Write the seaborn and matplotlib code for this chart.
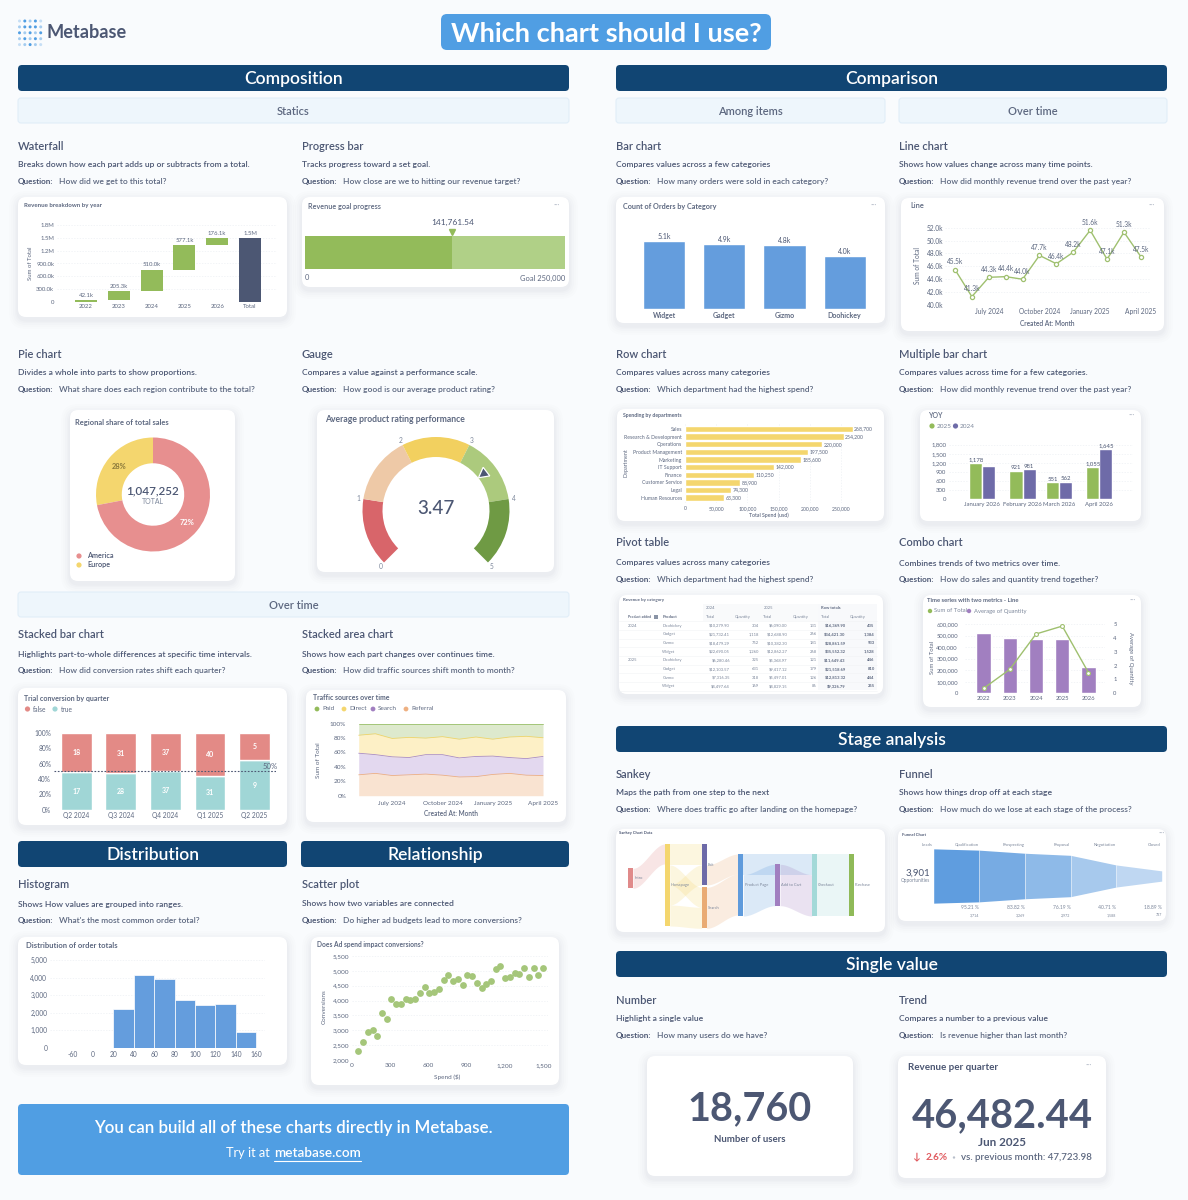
import numpy as np
import pandas as pd
import seaborn as sns
import matplotlib.pyplot as plt
from matplotlib.patches import FancyBboxPatch, Circle, Rectangle
from matplotlib.ticker import FuncFormatter

W, H = 1188, 1200
BG = '#f9fbfd'
DARK = '#4c5773'
MID = '#5d6880'
MUTED = '#7c879b'
NAVY = '#114573'
BLUE = '#509ee3'
GREEN = '#93bb5a'
PURPLE = '#a17fc0'
INDIGO = '#6e6ba8'
YELLOW = '#f4d66e'
RED = '#e38a86'
TEAL = '#a0d6d6'
ORANGE = '#eeb081'
BARBLUE = '#649ddd'

# waterfall
wf_years = ['2022', '2023', '2024', '2025', '2026']
wf_steps = [42100, 205300, 510000, 577100, 176100]
wf_labels = ['42.1k', '205.3k', '510.0k', '577.1k', '176.1k', '1.5M']
wf_ticks = [0, 300000, 600000, 900000, 1200000, 1500000, 1800000]
wf_ticklabels = ['0', '300.0k', '600.0k', '900.0k', '1.2M', '1.5M', '1.8M']

# progress
progress_value = 141761.54
progress_goal = 250000

# donut
donut_names = ['Europe', 'America']
donut_values = [28, 72]
donut_total = '1,047,252'

# gauge
gauge_value = 3.47
gauge_segments = [1, 1, 1, 1, 1]
gauge_colors = ['#d8656a', '#eec9a7', '#f2d05f', '#acca7d', '#6f9a44']

# stacked bar
sb_quarters = ['Q2 2024', 'Q3 2024', 'Q4 2024', 'Q1 2025', 'Q2 2025']
sb_false = [18, 31, 37, 40, 5]
sb_true = [17, 28, 37, 31, 9]

# stacked area
months_idx = list(range(12))
month_ticks = [2, 5, 8, 11]
month_ticklabels = ['July 2024', 'October 2024', 'January 2025', 'April 2025']
area_referral = [29, 31, 28, 29, 30, 28.5, 26, 26.5, 29.5, 31, 28.5, 28]
area_search = [30, 26, 26, 24, 27, 28.5, 26.5, 28, 25.5, 22, 23, 26.5]
area_direct = [25, 29, 25.5, 28, 23, 25, 26, 27, 23.5, 28.5, 31, 26]
area_paid = [16, 14, 20.5, 19, 20, 18, 21.5, 18.5, 21.5, 18.5, 17.5, 19.5]

# histogram
hist_edges = [20, 40, 60, 80, 100, 120, 140, 160]
hist_counts = [2200, 4150, 3900, 2700, 2450, 2500, 900]
hist_ticks = [-20, 0, 20, 40, 60, 80, 100, 120, 140, 160]
hist_ticklabels = ['-60', '0', '20', '40', '60', '80', '100', '120', '140', '160']

# scatter
scatter_spend = [50, 89, 125, 164, 201, 237, 274, 310, 347, 386, 423, 459, 496, 535, 571, 608, 647, 684, 720, 757,
                 793, 830, 869, 905, 945, 981, 1018, 1054, 1091, 1127, 1164, 1200, 1239, 1276, 1312, 1349, 1388, 1425, 1461, 1500]
scatter_conv = [2314, 2595, 2931, 3021, 2797, 3593, 3369, 4042, 3885, 3874, 4042, 4031, 4042, 4255, 4457, 4255, 4278, 4390, 4693, 4850,
                4659, 4738, 4536, 4861, 4827, 4603, 4412, 4547, 4670, 5063, 5153, 4760, 4783, 4928, 4895, 5086, 4805, 5108, 4872, 5108]

# bar chart
bar_names = ['Widget', 'Gadget', 'Gizmo', 'Doohickey']
bar_values = [5100, 4900, 4800, 4000]
bar_labels = ['5.1k', '4.9k', '4.8k', '4.0k']

# line chart
line_values = [45.5, 41.3, 44.3, 44.4, 44.0, 47.7, 46.4, 48.2, 51.6, 47.1, 51.3, 47.5]

# row chart
row_names = ['Sales', 'Research & Development', 'Operations', 'Product Management', 'Marketing',
             'IT Support', 'Finance', 'Customer Service', 'Legal', 'Human Resources']
row_values = [268700, 254200, 220000, 197500, 185600, 142000, 110250, 88900, 74300, 63300]

# multiple bar
mb_months = ['January 2026', 'February 2026', 'March 2026', 'April 2026']
mb_days = [0, 31, 59, 90]
mb_2025 = [1178, 921, 551, 1055]
mb_2024 = [1082, 981, 562, 1645]
mb_2024_labels = ['', '981', '562', '1,645']

# combo
combo_years = ['2022', '2023', '2024', '2025', '2026']
combo_total = [525000, 479000, 470000, 467000, 225000]
combo_qty = [0.36, 1.73, 4.28, 4.85, 1.49]

# pivot table
pivot_years = ['2024', '', '', '', '2025', '', '', '']
pivot_products = ['Doohickey', 'Gadget', 'Gizmo', 'Widget', 'Doohickey', 'Gadget', 'Gizmo', 'Widget']
pivot_total_24 = ['$10,279.90', '$21,732.41', '$18,479.29', '$22,690.05', '$6,280.46', '$12,103.57', '$7,316.35', '$4,497.64']
pivot_qty_24 = ['304', '1,118', '752', '1,260', '325', '631', '318', '169']
pivot_total_25 = ['$6,090.00', '$12,688.90', '$10,382.30', '$12,862.27', '$5,368.97', '$9,417.12', '$5,497.01', '$4,829.15']
pivot_qty_25 = ['131', '266', '181', '268', '121', '179', '126', '86']
pivot_row_total = ['$16,369.90', '$34,421.30', '$28,861.59', '$35,552.32', '$11,649.43', '$21,518.69', '$12,813.32', '$9,326.79']
pivot_row_qty = ['435', '1,384', '933', '1,528', '446', '810', '444', '255']

# sankey
node_names = ['Intro', 'Homepage', 'Exit', 'Search', 'Product Page', 'Add to Cart', 'Checkout', 'Purchase']
node_col = [0, 1, 2, 2, 3, 4, 5, 6]
node_top = [130, 57, 57, 187, 87, 118, 87, 87]
node_size = [60, 246, 123, 123, 185, 124, 185, 185]
node_colors = ['#e08a8a', '#f4d66e', '#6d6aa8', '#e9ab74', '#5f9bdc', '#a17fc0', '#a3d9d8', '#8fba58']
link_src = [0, 1, 1, 1, 1, 2, 3, 4, 4, 5, 6]
link_dst = [1, 2, 3, 2, 3, 4, 4, 6, 5, 6, 7]
link_src_off = [0, 0, 63, 123, 183, 63, 0, 0, 62, 0, 0]
link_dst_off = [0, 0, 0, 63, 60, 0, 60, 0, 0, 62, 0]
link_value = [60, 63, 60, 60, 63, 60, 123, 62, 124, 124, 185]
link_color = [0, 1, 1, 1, 1, 3, 3, 4, 4, 5, 6]

# funnel
funnel_stages = ['Leads', 'Qualification', 'Prospecting', 'Proposal', 'Negotiation', 'Closed']
funnel_values = [3901, 3714, 3269, 2972, 1588, 737]
funnel_pct = ['95.21 %', '83.82 %', '76.19 %', '40.71 %', '18.89 %']
funnel_counts = ['3,714', '3,269', '2,972', '1,588', '737']

sns.set_theme(style='white')
plt.rcParams['font.family'] = ['Lato', 'DejaVu Sans']
plt.rcParams['axes.unicode_minus'] = False

fig = plt.figure(figsize=(W / 100, H / 100), dpi=100, facecolor=BG)
bgax = fig.add_axes([0, 0, 1, 1], zorder=0)
bgax.set_xlim(0, W)
bgax.set_ylim(H, 0)
bgax.axis('off')
renderer = fig.canvas.get_renderer()


def T(x, y, s, size=7, color=DARK, weight='normal', ha='left', va='center', w=None, **kw):
    t = bgax.text(x, y, s, fontsize=size, color=color, fontweight=weight, ha=ha, va=va, zorder=5, **kw)
    if w:
        # scale the font so the text is w pixels wide
        t.set_fontsize(size * w / t.get_window_extent(renderer).width)
    return t


def box(x0, y0, x1, y1, color, radius=5, ec='none', lw=0, z=2):
    bgax.add_patch(FancyBboxPatch((x0, y0), x1 - x0, y1 - y0, boxstyle='round,pad=0,rounding_size=%s' % radius,
                                  fc=color, ec=ec, lw=lw, zorder=z))


def card(x0, y0, x1, y1):
    # soft shadow, a few stacked translucent boxes
    for grow, alpha in [(9, .006), (7, .008), (5, .010), (3, .014), (1.5, .018)]:
        bgax.add_patch(FancyBboxPatch((x0 - grow, y0 - grow + 3), x1 - x0 + 2 * grow, y1 - y0 + 2 * grow,
                                      boxstyle='round,pad=0,rounding_size=%s' % (8 + grow),
                                      fc='#33425e', ec='none', alpha=alpha, zorder=1))
    box(x0, y0, x1, y1, 'white', radius=8)


def section(x0, y0, x1, y1, label):
    box(x0, y0, x1, y1, NAVY, radius=4)
    T((x0 + x1) / 2, (y0 + y1) / 2 + 1.2, label, size=12.6, color='white', weight='semibold', ha='center')


def subbar(x0, y0, x1, y1, label):
    box(x0, y0, x1, y1, '#eef6fc', radius=3, ec='#e1eef8', lw=.8)
    T((x0 + x1) / 2, (y0 + y1) / 2 + 1, label, size=8, color=MID, weight='semibold', ha='center')


def blurb(x, y0, y1, y2, title, desc, question):
    T(x, y0, title, size=8, color=DARK, weight='semibold')
    T(x, y1, desc, size=6.1, color=DARK, weight='semibold')
    T(x, y2 + .5, 'Question:', size=5.9, color=DARK, weight='bold')
    T(x + 41, y2 + .5, question, size=6, color=MID, weight='semibold')


def dot(x, y, color, r=2.6):
    bgax.add_patch(Circle((x, y), r, fc=color, ec='none', zorder=5))


def more(x, y):
    T(x, y, '···', size=6, color='#b8bfcb', ha='center')


def panel(x0, y0, x1, y1):
    ax = fig.add_axes([x0 / W, 1 - y1 / H, (x1 - x0) / W, (y1 - y0) / H], zorder=3)
    ax.patch.set_visible(False)
    return ax


def clean(ax, size=4.3, grid='y'):
    sns.despine(ax=ax, left=True, bottom=True)
    ax.set_xlabel('')
    ax.set_ylabel('')
    ax.tick_params(length=0, labelsize=size, labelcolor=MID, pad=2)
    if grid:
        ax.grid(True, axis=grid, color='#edf0f4', lw=.5, ls=(0, (2, 2)))
        ax.set_axisbelow(True)
    else:
        ax.grid(False)


# ---- header
mask = [[.3, 1, .5, 1, .3], [.5, 1, 1, 1, .5], [1, .5, 1, .5, 1], [.5, 1, .5, 1, .5], [.3, .5, 1, .5, .3]]
for row, alphas in enumerate(mask):
    for col, alpha in enumerate(alphas):
        bgax.add_patch(Circle((19.5 + col * 5.3, 21 + row * 5.9), 1.5, fc=BLUE, ec='none', alpha=alpha, zorder=5))
T(47, 33, 'Metabase', size=13, color=DARK, weight='bold', w=80)
box(441, 14, 771, 50, BLUE, radius=6)
T(606, 34, 'Which chart should I use?', size=20, color='white', weight='bold', ha='center', w=312)

section(18, 65, 569, 91, 'Composition')
section(616, 65, 1167, 91, 'Comparison')
subbar(18, 98, 569, 123, 'Statics')
subbar(616, 98, 885, 123, 'Among items')
subbar(899, 98, 1167, 123, 'Over time')
subbar(18, 592, 569, 617, 'Over time')
section(18, 841, 287, 867, 'Distribution')
section(301, 841, 569, 867, 'Relationship')
section(616, 726, 1167, 752, 'Stage analysis')
section(616, 951, 1167, 977, 'Single value')

blurb(18, 146, 165, 181, 'Waterfall', 'Breaks down how each part adds up or subtracts from a total.', 'How did we get to this total?')
blurb(302, 146, 165, 181, 'Progress bar', 'Tracks progress toward a set goal.', 'How close are we to hitting our revenue target?')
blurb(18, 354, 373, 389, 'Pie chart', 'Divides a whole into parts to show proportions.', 'What share does each region contribute to the total?')
blurb(302, 354, 373, 389, 'Gauge', 'Compares a value against a performance scale.', 'How good is our average product rating?')
blurb(18, 635, 654, 670, 'Stacked bar chart', 'Highlights part-to-whole differences at specific time intervals.', 'How did conversion rates shift each quarter?')
blurb(302, 635, 654, 670, 'Stacked area chart', 'Shows how each part changes over continues time.', 'How did traffic sources shift month to month?')
blurb(18, 885, 904, 920, 'Histogram', 'Shows How values are grouped into ranges.', "What's the most common order total?")
blurb(302, 885, 904, 920, 'Scatter plot', 'Shows how two variables are connected', 'Do higher ad budgets lead to more conversions?')
blurb(616, 146, 165, 181, 'Bar chart', 'Compares values across a few categories', 'How many orders were sold in each category?')
blurb(899, 146, 165, 181, 'Line chart', 'Shows how values change across many time points.', 'How did monthly revenue trend over the past year?')
blurb(616, 354, 373, 389, 'Row chart', 'Compares values across many categories', 'Which department had the highest spend?')
blurb(899, 354, 373, 389, 'Multiple bar chart', 'Compares values across time for a few categories.', 'How did monthly revenue trend over the past year?')
blurb(616, 543, 563, 579, 'Pivot table', 'Compares values across many categories', 'Which department had the highest spend?')
blurb(899, 543, 563, 579, 'Combo chart', 'Combines trends of two metrics over time.', 'How do sales and quantity trend together?')
blurb(616, 774, 793, 809, 'Sankey', 'Maps the path from one step to the next', 'Where does traffic go after landing on the homepage?')
blurb(899, 774, 793, 809, 'Funnel', 'Shows how things drop off at each stage', 'How much do we lose at each stage of the process?')
blurb(616, 1000, 1019, 1035, 'Number', 'Highlight a single value', 'How many users do we have?')
blurb(899, 1000, 1019, 1035, 'Trend', 'Compares a number to a previous value', 'Is revenue higher than last month?')

for rect in [(18, 197, 287, 317), (302, 197, 569, 287), (70, 410, 235, 581), (317, 410, 554, 572),
             (18, 688, 287, 825), (306, 690, 566, 822), (18, 937, 287, 1065), (311, 937, 559, 1085),
             (616, 197, 885, 323), (901, 198, 1164, 331), (617, 409, 884, 521), (920, 410, 1141, 521),
             (619, 595, 883, 694), (923, 595, 1141, 707), (616, 829, 885, 932), (898, 829, 1166, 921),
             (647, 1056, 853, 1176), (898, 1056, 1106, 1178)]:
    card(*rect)

# ---- waterfall
T(24, 206, 'Revenue breakdown by year', size=5, color=MID, weight='bold', w=79)
T(30, 263, 'Sum of Total', size=4.3, color=MID, rotation=90, ha='center')
ax = panel(57, 225.3, 277, 301.7)
wf_total = sum(wf_steps)
wf_bottoms = list(np.concatenate([[0], np.cumsum(wf_steps)[:-1]])) + [0]
wf_cats = wf_years + ['Total']
sns.barplot(x=wf_cats, y=wf_steps + [0], bottom=wf_bottoms, color=GREEN, saturation=1, width=.67, linewidth=0, ax=ax)
sns.barplot(x=wf_cats, y=[0] * 5 + [wf_total], color=DARK, saturation=1, width=.67, linewidth=0, ax=ax)
ax.set_xlim(-.88, 5.82)
ax.set_ylim(0, 1800000)
ax.set_yticks(wf_ticks)
ax.set_yticklabels(wf_ticklabels)
clean(ax)
for i, lab in enumerate(wf_labels):
    ax.annotate(lab, (i, (wf_bottoms[i] + (wf_steps + [wf_total])[i])), xytext=(0, 1.5), textcoords='offset points',
                ha='center', va='bottom', fontsize=4.3, color=MID)

# ---- progress bar
T(308, 207, 'Revenue goal progress', size=5.4, color=MID, weight='semibold', w=73)
more(557, 205)
ax = panel(305, 236, 565, 269)
sns.barplot(x=[progress_goal], y=[''], color='#b0d087', saturation=1, width=1, orient='h', linewidth=0, ax=ax)
sns.barplot(x=[progress_value], y=[''], color=GREEN, saturation=1, width=1, orient='h', linewidth=0, ax=ax)
ax.set_xlim(0, progress_goal)
ax.set_ylim(.5, -.5)
ax.axis('off')
ax.annotate(format(progress_value, ',.2f'), (progress_value, -.5), xytext=(0, 7), textcoords='offset points',
            ha='center', va='bottom', fontsize=6, color=DARK)
ax.plot([progress_value], [-.62], marker='v', ms=4.5, color=GREEN, clip_on=False)
T(305, 278, '0', size=5.4, color=MID)
T(565, 278, 'Goal ' + format(progress_goal, ','), size=5.4, color=MID, ha='right')

# ---- donut
T(75, 422, 'Regional share of total sales', size=5.2, color=MID, weight='bold', w=93)
ax = panel(96, 437, 210, 552)
ax.pie(donut_values, colors=['#f4d66e', '#e78f8f'], startangle=90, radius=1, wedgeprops={'width': 26 / 57.5, 'linewidth': 0})
ax.set_xlim(-1, 1)
ax.set_ylim(-1, 1)
donut_start = 90
for val, col in zip(donut_values, ['#8b7a3c', 'white']):
    mid = np.radians(donut_start + val * 3.6 / 2)
    ax.text(.78 * np.cos(mid), .78 * np.sin(mid), '%d%%' % val, fontsize=5.4, color=col, fontweight='bold', ha='center', va='center')
    donut_start += val * 3.6
T(153, 491, donut_total, size=9, color=DARK, weight='semibold', ha='center', w=53)
T(153, 501, 'TOTAL', size=5, color=MUTED, ha='center', w=22)
dot(79, 556, '#e78f8f')
dot(79, 565, '#f4d66e')
T(87, 556, donut_names[1], size=5.2, color=DARK, weight='semibold')
T(87, 565, donut_names[0], size=5.2, color=DARK, weight='semibold')

# ---- gauge
T(325, 420, 'Average product rating performance', size=6.2, color=MID, weight='bold', w=140)
ax = panel(362.5, 437, 509.5, 584)
gauge_hidden = sum(gauge_segments) * 90 / 270
ax.pie(gauge_segments + [gauge_hidden], colors=gauge_colors + ['none'], startangle=225, counterclock=False, radius=1,
       wedgeprops={'width': 20 / 73.5, 'linewidth': 0})
ax.set_xlim(-1, 1)
ax.set_ylim(-1, 1)
for tick in range(6):
    ang = np.radians(225 - tick * 54)
    ax.text(1.07 * np.cos(ang), 1.07 * np.sin(ang), str(tick), fontsize=4.8, color=MUTED, ha='center', va='center', clip_on=False)
ang = np.radians(225 - gauge_value * 54)
needle_r = [.73, .87, .87]
needle_a = [ang, ang + .085, ang - .085]
ax.fill([r * np.cos(a) for r, a in zip(needle_r, needle_a)], [r * np.sin(a) for r, a in zip(needle_r, needle_a)],
        color=DARK, ec='white', lw=.9)
T(436, 509, '%.2f' % gauge_value, size=13.5, color=DARK, weight='medium', ha='center')

# ---- stacked bar
T(24, 698, 'Trial conversion by quarter', size=5.4, color=MID, weight='bold', w=87)
dot(27.5, 709, RED)
T(33, 709, 'false', size=4.8, color=MID)
dot(55, 709, TEAL)
T(61, 709, 'true', size=4.8, color=MID)
ax = panel(54, 733, 276, 809.7)
sb_tot = np.array(sb_false) + np.array(sb_true)
sb_true_pct = 100 * np.array(sb_true) / sb_tot
sb_false_pct = 100 * np.array(sb_false) / sb_tot
sns.barplot(x=sb_quarters, y=sb_true_pct, color=TEAL, saturation=1, width=.69, ax=ax)
sns.barplot(x=sb_quarters, y=sb_false_pct, bottom=sb_true_pct, color=RED, saturation=1, width=.69, ax=ax)
ax.set_xlim(-.5, 4.48)
ax.set_ylim(0, 100)
ax.set_yticks([0, 20, 40, 60, 80, 100])
ax.yaxis.set_major_formatter(FuncFormatter(lambda v, p: '%d%%' % v))
clean(ax, size=4.8, grid=None)
ax.axhline(50, color=DARK, lw=.8, ls=(0, (1.5, 1.5)))
for i in range(len(sb_quarters)):
    ax.text(i, sb_true_pct[i] / 2, str(sb_true[i]), color='white', fontsize=5, fontweight='bold', ha='center', va='center')
    ax.text(i, sb_true_pct[i] + sb_false_pct[i] / 2, str(sb_false[i]), color='white', fontsize=5, fontweight='bold', ha='center', va='center')
ax.annotate('50%', (1, 50), xycoords=('axes fraction', 'data'), xytext=(1, 1), textcoords='offset points',
            ha='right', va='bottom', fontsize=5.6, color=MID)

# ---- stacked area
T(313, 698, 'Traffic sources over time', size=5.4, color=MID, weight='bold', w=77)
for x, name, col in [(317, 'Paid', '#93bb5a'), (344, 'Direct', '#f4d66e'), (373, 'Search', PURPLE), (406, 'Referral', ORANGE)]:
    dot(x, 709, col, r=2.4)
    T(x + 5, 709, name, size=4.6, color=MID)
T(318, 760, 'Sum of Total', size=4.6, color=MID, rotation=90, ha='center')
T(451, 813, 'Created At: Month', size=4.7, color=MID, weight='semibold', ha='center')
ax = panel(358.7, 723.7, 543, 795.7)
ax.stackplot(months_idx, area_referral, area_search, area_direct, area_paid,
             colors=['#f9e3d1', '#e3d8ef', '#fdf0c6', '#dde9cd'], linewidth=0)
area_tops = np.cumsum([area_referral, area_search, area_direct, area_paid], axis=0)
for top, col in zip(area_tops, [ORANGE, '#a88cc9', '#f0d469', '#9abf6a']):
    sns.lineplot(x=months_idx, y=top, color=col, lw=.6, ax=ax, clip_on=False, errorbar=None)
ax.set_xlim(0, 11)
ax.set_ylim(0, 100)
ax.set_yticks([0, 20, 40, 60, 80, 100])
ax.yaxis.set_major_formatter(FuncFormatter(lambda v, p: '%d%%' % v))
ax.set_xticks(month_ticks)
ax.set_xticklabels(month_ticklabels)
clean(ax, size=4.6, grid=None)
ax.tick_params(axis='x', pad=3.5)
ax.tick_params(axis='y', pad=9)

# ---- histogram
T(26, 945, 'Distribution of order totals', size=5.5, color=MID, weight='bold', w=91)
ax = panel(50, 960, 265, 1048)
sns.histplot(x=hist_edges[:-1], weights=hist_counts, bins=hist_edges, color=BARBLUE, alpha=1,
             edgecolor='white', linewidth=.5, ax=ax)
ax.set_xlim(-42, 168.6)
ax.set_ylim(0, 5000)
ax.set_xticks(hist_ticks)
ax.set_xticklabels(hist_ticklabels)
ax.set_yticks(range(0, 5001, 1000))
ax.yaxis.set_major_formatter(FuncFormatter(lambda v, p: format(int(v), ',')))
clean(ax, size=4.8)

# ---- scatter
T(317, 944, 'Does Ad spend impact conversions?', size=5.2, color=MID, weight='bold', w=107)
T(324, 1007, 'Conversions', size=4.6, color=MID, rotation=90, ha='center')
T(447, 1077, 'Spend ($)', size=4.6, color=MID, ha='center')
ax = panel(351.7, 956, 548, 1060)
sns.scatterplot(x=scatter_spend, y=scatter_conv, color='#a5c67a', s=24, linewidth=0, ax=ax, clip_on=False)
ax.set_xlim(0, 1500 * (548 - 351.7) / (543.3 - 351.7))
ax.set_ylim(2000, 5500)
ax.set_xticks(range(0, 1501, 300))
ax.set_yticks(range(2000, 5501, 500))
fmt = FuncFormatter(lambda v, p: format(int(v), ','))
ax.xaxis.set_major_formatter(fmt)
ax.yaxis.set_major_formatter(fmt)
clean(ax, size=4.6)

# ---- bar chart
T(623, 206, 'Count of Orders by Category', size=5.4, color=MID, weight='bold', w=94)
more(874, 205)
ax = panel(634, 235, 876, 309)
sns.barplot(x=bar_names, y=bar_values, color=BARBLUE, saturation=1, width=.7, ax=ax)
ax.set_xlim(-.5, 3.52)
ax.set_ylim(0, 5564)
ax.set_yticks([])
clean(ax, size=5, grid=None)
for lbl in ax.get_xticklabels():
    lbl.set_fontweight('bold')
for i, lab in enumerate(bar_labels):
    ax.text(i, bar_values[i] + 90, lab, fontsize=5, color=DARK, ha='center', va='bottom')

# ---- line chart
T(910, 206, 'Line', size=5.4, color=MID, weight='semibold')
more(1152, 205)
T(917, 266, 'Sum of Total', size=4.8, color=MID, rotation=90, ha='center')
T(1047, 323, 'Created At: Month', size=4.8, color=MID, weight='semibold', ha='center')
ax = panel(945, 227.7, 1150, 305)
sns.lineplot(x=months_idx, y=line_values, color='#9fc06f', lw=1, marker='o', ms=3, mfc='white', mec='#9fc06f', mew=.9,
             clip_on=False, errorbar=None, ax=ax)
ax.set_xlim(-.59, 11.54)
ax.set_ylim(40, 52)
ax.set_yticks(range(40, 53, 2))
ax.set_yticklabels(['%.1fk' % v for v in range(40, 53, 2)])
ax.set_xticks(month_ticks)
ax.set_xticklabels(month_ticklabels)
clean(ax, size=4.8)
ax.tick_params(axis='y', pad=1)
for i, v in enumerate(line_values):
    ax.annotate('%.1fk' % v, (i, v), xytext=(0, 3), textcoords='offset points', ha='center', va='bottom', fontsize=4.8, color=MID)

# ---- row chart
T(623, 415, 'Spending by departments', size=4.7, color=MID, weight='bold', w=58)
T(626, 463, 'Department', size=3.9, color=MID, rotation=90, ha='center')
T(769, 515, 'Total Spend (usd)', size=3.7, color=MID, weight='semibold', ha='center')
ax = panel(685, 423, 860, 503)
sns.barplot(x=row_values, y=row_names, color=YELLOW, saturation=1, width=.84, orient='h', ax=ax)
ax.set_xlim(0, 280449)
ax.set_ylim(9.7, -.79)
ax.set_xticks(range(0, 250001, 50000))
ax.xaxis.set_major_formatter(fmt)
clean(ax, size=3.7, grid='x')
for i, v in enumerate(row_values):
    ax.text(v + 2500, i, format(v, ','), fontsize=3.7, color=MID, va='center')

# ---- multiple bar
T(929, 416, 'YOY', size=5, color=MID, weight='semibold')
more(1132, 415)
dot(932, 426, GREEN)
T(936.5, 426, '2025', size=4.6, color=MUTED)
dot(955.5, 426, INDIGO)
T(960, 426, '2024', size=4.6, color=MUTED)
ax = panel(949, 444.7, 1133, 499)
mb = pd.DataFrame({'day': mb_days * 2, 'value': mb_2025 + mb_2024, 'year': ['2025'] * 4 + ['2024'] * 4})
sns.barplot(data=mb, x='day', y='value', hue='year', hue_order=['2025', '2024'], palette=[GREEN, INDIGO], native_scale=True,
            saturation=1, width=.72, legend=False, ax=ax)
ax.set_xlim(-25.6, 115.9)
ax.set_ylim(0, 1800)
ax.set_xticks(mb_days)
ax.set_xticklabels(mb_months)
ax.set_yticks(range(0, 1801, 300))
ax.yaxis.set_major_formatter(fmt)
clean(ax, size=4.3)
for i, d in enumerate(mb_days):
    ax.text(d - 5, mb_2025[i] + 25, format(mb_2025[i], ','), fontsize=4.3, color=DARK, ha='center', va='bottom')
    ax.text(d + 5, mb_2024[i] + 25, mb_2024_labels[i], fontsize=4.3, color=DARK, ha='center', va='bottom', clip_on=False)


# ---- pivot table
def zx(v):
    return 610 + v / 3


def zy(v):
    return 590 + v / 3


T(zx(40), zy(29), 'Revenue by category', size=3.2, color=MID, weight='bold')
bgax.add_patch(Rectangle((zx(280), zy(43)), zx(800) - zx(280), zy(94) - zy(43), fc='#f9fafb', ec='none', zorder=3))
bgax.add_patch(Rectangle((zx(625), zy(43)), zx(800) - zx(625), zy(300) - zy(43), fc='#f8f9fb', ec='none', zorder=3))
for yline in [94, 120, 146, 172, 198, 224, 250, 276, 302]:
    bgax.plot([zx(28), zx(800)], [zy(yline), zy(yline)], color='#f1f3f5', lw=.4, zorder=4)
T(zx(287), zy(55), '2024', size=3, color=MUTED)
T(zx(460), zy(55), '2025', size=3, color=MUTED)
T(zx(633), zy(55), 'Row totals', size=3, color=MID, weight='bold')
T(zx(54), zy(81), 'Product added', size=3, color=MID, weight='bold', w=23)
bgax.add_patch(Rectangle((zx(131), zy(76)), 4, 3.5, fc='#8a94a6', ec='none', zorder=5))
T(zx(157), zy(81), 'Product', size=3, color=MID, weight='bold')
for x in [287, 374, 460, 547, 633, 720]:
    T(zx(x), zy(81), 'Quantity' if x in (374, 547, 720) else 'Total', size=3, color=MUTED)
pivot_cols = [(360, pivot_total_24, 'normal'), (447, pivot_qty_24, 'normal'), (533, pivot_total_25, 'normal'),
              (620, pivot_qty_25, 'normal'), (707, pivot_row_total, 'bold'), (794, pivot_row_qty, 'bold')]
for r in range(8):
    yy = zy(107 + r * 26)
    T(zx(54), yy, pivot_years[r], size=3, color=MUTED)
    T(zx(157), yy, pivot_products[r], size=3, color=MUTED)
    for xr, col, wt in pivot_cols:
        T(zx(xr), yy, col[r], size=3, color=MUTED if wt == 'normal' else MID, weight=wt, ha='right')

# ---- combo
T(927, 601, 'Time series with two metrics - Line', size=5, color=MID, weight='bold', w=92)
more(1133, 600)
dot(930, 611, GREEN, r=2.2)
T(934, 611, 'Sum of Total', size=4.2, color=MUTED)
dot(969, 611, PURPLE, r=2.2)
T(974, 611, 'Average of Quantity', size=4.2, color=MUTED)
T(933, 658, 'Sum of Total', size=4.2, color=MID, rotation=90, ha='center')
T(1130, 658, 'Average of Quantity', size=4.2, color=MID, rotation=270, ha='center')
ax = panel(965, 624, 1105, 693.3)
sns.barplot(x=combo_years, y=combo_total, color=PURPLE, saturation=1, width=.55, ax=ax)
ax.set_xlim(-.71, 4.63)
ax.set_ylim(0, 600000)
ax.set_yticks(range(0, 600001, 100000))
ax.yaxis.set_major_formatter(fmt)
clean(ax, size=4.2)
ax.tick_params(axis='y', pad=5)
ax2 = ax.twinx()
ax2.patch.set_visible(False)
sns.lineplot(x=list(range(5)), y=combo_qty, color='#9fc06f', lw=1, marker='o', ms=2.8, mfc='white', mec='#9fc06f', mew=.8,
             errorbar=None, clip_on=False, ax=ax2)
ax2.set_xlim(-.71, 4.63)
ax2.set_ylim(0, 5)
ax2.set_yticks(range(6))
clean(ax2, size=4.2, grid=None)
ax2.tick_params(axis='y', pad=6)

# ---- sankey
T(619, 833, 'Sankey Chart Data', size=2.9, color=DARK, weight='bold')
ax = panel(610, 825, 890, 935)
ax.set_xlim(0, 840)
ax.set_ylim(330, 0)
ax.axis('off')
node_x = [54 + 110.3 * c for c in node_col]
tt = np.linspace(0, 1, 60)
ss = tt * tt * (3 - 2 * tt)
for a, b, oa, ob, v, c in zip(link_src, link_dst, link_src_off, link_dst_off, link_value, link_color):
    xs = node_x[a] + 15 + (node_x[b] - node_x[a] - 15) * tt
    top = node_top[a] + oa + (node_top[b] + ob - node_top[a] - oa) * ss
    ax.fill_between(xs, top, top + v, color=node_colors[c], alpha=.22, lw=0)
for i, name in enumerate(node_names):
    ax.add_patch(Rectangle((node_x[i], node_top[i]), 15, node_size[i], fc=node_colors[i], ec='none'))
    ax.text(node_x[i] + 19, node_top[i] + node_size[i] / 2, name, fontsize=2.9, color=MUTED, va='center')

# ---- funnel
T(902, 834.5, 'Funnel Chart', size=3, color=DARK, weight='bold')
more(1162, 833)
ax = panel(933.7, 845, 1161.7, 907)
ax.set_xlim(0, 5)
ax.set_ylim(-2227, 2227)
ax.axis('off')
for i in range(5):
    a, b = funnel_values[i], funnel_values[i + 1]
    ax.fill_between([i, i + 1], [a / 2, b / 2], [-a / 2, -b / 2], color='#5f9ddf', alpha=1 - .15 * i, lw=0)
    if i:
        ax.plot([i, i], [a / 2, -a / 2], color='white', lw=.5, alpha=.7)
for i, stage in enumerate(funnel_stages):
    T(933 + i * 45.6, 845, stage, size=3.1, color=MUTED, ha='right')
for i in range(5):
    T(933.7 + (i + 1) * 45.6, 907.5, funnel_pct[i], size=3.6, color=MUTED, ha='right')
    T(933.7 + (i + 1) * 45.6, 915, funnel_counts[i], size=2.6, color=MUTED, ha='right')
T(930, 873.5, format(funnel_values[0], ','), size=7, color=DARK, ha='right')
T(930, 880.5, 'Opportunities', size=3.4, color=MUTED, ha='right')

# ---- single values
T(750, 1109, '18,760', size=31, color=DARK, weight='bold', ha='center', w=124)
T(750, 1140, 'Number of users', size=7.4, color=DARK, weight='bold', ha='center', w=72)
T(908, 1067, 'Revenue per quarter', size=6.6, color=DARK, weight='bold', w=90)
more(1089, 1065)
T(1002, 1116, '46,482.44', size=30, color=DARK, weight='bold', ha='center', w=180)
T(1002, 1143, 'Jun 2025', size=7.4, color=DARK, weight='bold', ha='center', w=48)
T(912, 1157, '↓', size=7.5, color='#e05a5f', weight='bold')
T(926, 1157, '2.6%', size=7.4, color='#e05a5f', weight='bold', w=22)
dot(954, 1157.5, '#b8bfcb', r=1.2)
T(961, 1157, 'vs. previous month: 47,723.98', size=7.2, color=MID, weight='semibold', w=131)

# ---- call to action
box(18, 1104, 569, 1175, BLUE, radius=4)
T(293.5, 1128, 'You can build all of these charts directly in Metabase.', size=13, color='white', weight='semibold', ha='center', w=395)
T(226, 1153, 'Try it at', size=10, color='white', w=44)
T(274, 1153, 'metabase.com', size=10, color='white', weight='semibold', w=87)
bgax.plot([274, 361], [1160.5, 1160.5], color='white', lw=.8, zorder=5)

fig.savefig('out.png', dpi=100, facecolor=BG)
